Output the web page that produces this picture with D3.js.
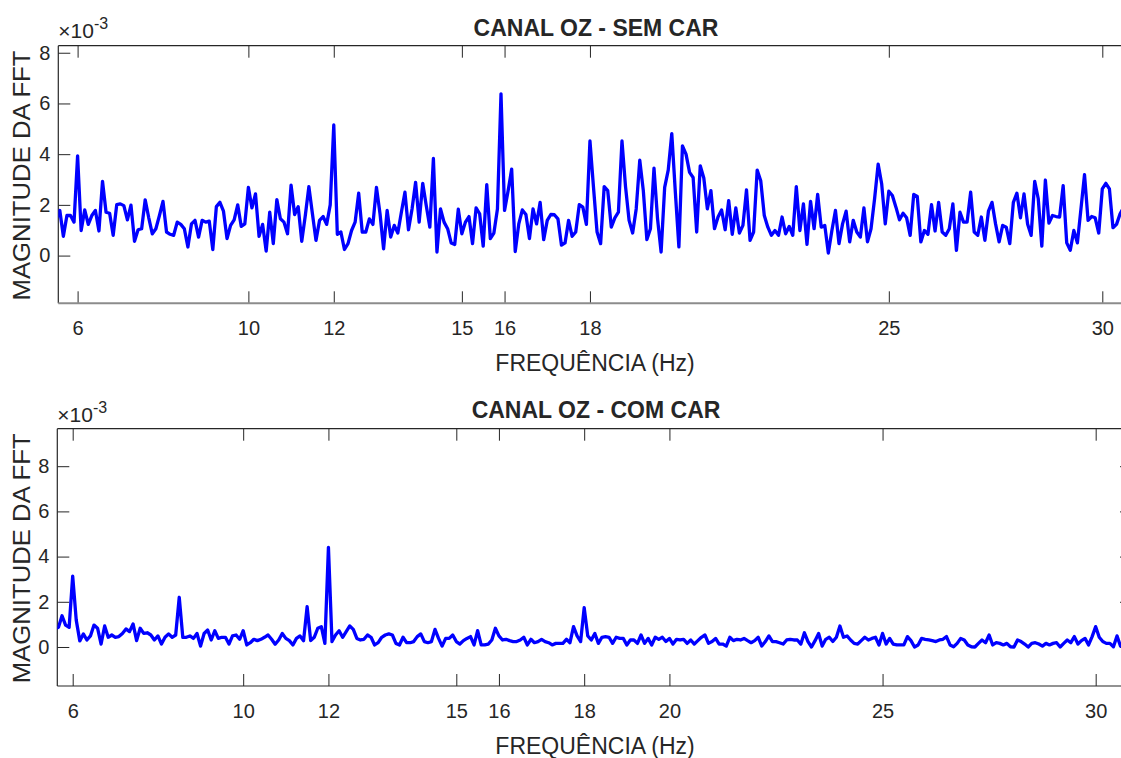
<!DOCTYPE html>
<html lang="en">
<head>
<meta charset="UTF-8">
<title>Canal OZ - FFT</title>
<script src="https://d3js.org/d3.v7.min.js"></script>
<style>
  body { margin: 0; background: #fff; }
  svg text { font-family: "Liberation Sans", Arial, Helvetica, sans-serif; fill: #262626; }
</style>
</head>
<body>
<svg id="fig" width="1121" height="758"></svg>
<script>
// FFT magnitude (units of 1e-3), one value every 1/12 Hz
const freqStep = 1 / 12;

const semCarStart = 5.5;
const semCar = [
  1.45, 1.78, 0.76, 1.58, 1.58, 1.32, 3.93, 0.99, 1.8, 1.23,
  1.58, 1.78, 0.97, 2.93, 1.71, 1.67, 0.8, 2.01, 2.04, 1.97,
  1.41, 1.99, 0.56, 1.02, 1.06, 2.2, 1.49, 0.86, 1.06, 1.58,
  2.14, 0.93, 0.84, 0.8, 1.32, 1.23, 1.06, 0.34, 1.25, 1.39,
  0.73, 1.39, 1.32, 1.36, 0.24, 1.93, 2.1, 1.75, 0.67, 1.19,
  1.41, 2.0, 1.15, 1.25, 2.69, 1.88, 2.43, 0.76, 1.23, 0.18,
  1.71, 0.47, 2.21, 1.45, 1.32, 0.86, 2.78, 1.62, 1.93, 0.56,
  1.58, 2.72, 1.65, 0.6, 1.39, 1.54, 1.23, 2.0, 5.15,
  0.84, 0.93, 0.24, 0.47, 0.99, 1.32, 2.46, 0.93, 0.93, 1.45,
  1.23, 2.69, 1.65, 0.27, 1.78, 0.73, 1.19, 0.89, 1.71, 2.5,
  1.02, 1.84, 2.89, 1.32, 2.85, 1.97, 1.12, 3.83, 0.14, 1.84,
  1.32, 1.06, 0.5, 0.44, 1.83, 0.86, 1.32, 1.54, 0.47, 1.88,
  1.65, 0.37, 2.8, 0.67, 0.89, 1.84, 6.38, 1.78, 2.56, 3.41,
  0.16, 1.25, 1.8, 1.62, 0.67, 1.84, 1.25, 2.1, 0.63, 1.39,
  1.62, 1.61, 1.45, 0.41, 0.5, 1.39, 0.76, 0.93, 2.01, 1.91,
  1.23, 4.52,
  2.69, 0.93, 0.47, 2.72, 2.56, 1.12, 1.49, 1.71, 4.52, 2.72,
  1.39, 0.89, 1.84, 3.76, 2.56, 0.63, 1.06, 3.45, 1.45, 0.14,
  2.69, 3.37, 4.81, 2.5, 0.34, 4.33, 4.0, 3.28, 3.08, 0.93,
  3.54, 3.06, 1.84, 2.56, 1.06, 1.52, 1.8, 1.02, 2.17, 0.84,
  1.88, 0.89, 1.19, 2.59, 0.6, 0.93, 3.37, 2.95, 1.58, 1.12,
  0.8, 0.99, 0.8, 1.52, 0.86, 1.15, 0.8, 2.72, 0.99, 2.04,
  0.44, 2.14, 1.06, 2.41, 1.12, 1.19, 0.1, 0.99, 1.78, 0.47,
  1.25, 1.75, 0.54, 1.39, 0.93, 0.73, 1.88, 0.54,
  1.06, 2.24, 3.61, 2.82, 1.25, 2.54, 2.37, 1.91, 1.41, 1.67,
  1.49, 0.8, 2.41, 2.33, 0.54, 0.99, 0.84, 2.01, 0.97, 2.1,
  0.93, 0.8, 1.06, 2.04, 0.21, 1.71, 1.32, 1.32, 2.5, 0.93,
  0.8, 1.52, 0.6, 1.75, 2.1, 1.25, 0.54, 1.19, 1.12, 0.47,
  2.1, 2.46, 1.49, 2.43, 1.25, 0.8, 2.93, 2.24, 0.37, 2.98,
  1.28, 1.58, 1.54, 1.52, 2.76, 0.5, 0.21, 0.99, 0.5, 1.84,
  3.19, 1.39, 1.54, 1.49, 0.89, 2.63, 2.85, 2.63, 1.1, 1.23,
  1.65, 1.9
];

const comCarStart = 5.5833;
const comCar = [
  0.8, 0.87, 1.38, 0.97, 0.87,
  3.14, 1.19, 0.27, 0.58, 0.31, 0.49, 0.97, 0.83, 0.13, 0.93,
  0.43, 0.53, 0.43, 0.46, 0.6, 0.8, 0.68, 1.02, 0.28, 0.83,
  0.6, 0.63, 0.53, 0.31, 0.49, 0.13, 0.43, 0.58, 0.43, 0.53,
  2.2, 0.43, 0.43, 0.49, 0.38, 0.6, 0.04, 0.6, 0.75, 0.31,
  0.72, 0.38, 0.43, 0.43, 0.13, 0.49, 0.53, 0.34, 0.72, 0.09,
  0.19, 0.34, 0.28, 0.34, 0.43, 0.53, 0.34, 0.12, 0.31, 0.6,
  0.38, 0.28, 0.09, 0.38, 0.49, 0.28, 1.78, 0.28, 0.43, 0.83,
  0.9, 0.16, 4.41,
  0.24, 0.53, 0.72, 0.43, 0.68, 0.93, 0.78, 0.38, 0.31, 0.34,
  0.53, 0.43, 0.09, 0.19, 0.43, 0.53, 0.58, 0.53, 0.16, 0.09,
  0.43, 0.19, 0.19, 0.24, 0.46, 0.58, 0.24, 0.19, 0.24, 0.78,
  0.38, 0.04, 0.38, 0.38, 0.53, 0.24, 0.13, 0.28, 0.38, 0.46,
  0.09, 0.72, 0.09, 0.09, 0.13, 0.31, 0.83, 0.49, 0.31, 0.34,
  0.28, 0.24, 0.24, 0.31, 0.43, 0.09, 0.34, 0.19, 0.24, 0.34,
  0.24, 0.19, 0.09, 0.16, 0.16, 0.16, 0.34, 0.19, 0.9, 0.49,
  0.24, 1.74,
  0.49, 0.31, 0.6, 0.16,
  0.43, 0.46, 0.43, 0.16, 0.43, 0.38, 0.38, 0.09, 0.31, 0.31,
  0.16, 0.53, 0.16, 0.38, 0.09, 0.43, 0.34, 0.43, 0.24, 0.38,
  0.13, 0.34, 0.31, 0.34, 0.16, 0.31, 0.13, 0.28, 0.43, 0.53,
  0.16, 0.24, 0.38, 0.13, 0.13, 0.04, 0.43, 0.28, 0.34, 0.31,
  0.38, 0.28, 0.19, 0.28, 0.43, 0.04, 0.24, 0.49, 0.24, 0.24,
  0.19, 0.13, 0.31, 0.34, 0.31, 0.31, 0.13, 0.63, 0.24, 0.0,
  0.28, 0.6, 0.04, 0.34, 0.43, 0.24, 0.43, 0.93, 0.43, 0.49,
  0.31, 0.16, 0.13, 0.28, 0.43, 0.31,
  0.38, 0.43, 0.09, 0.6, 0.13, 0.38, 0.13, 0.09, 0.09, 0.09,
  0.46, 0.28, 0.0, 0.09, 0.38, 0.34, 0.31, 0.28, 0.24, 0.31,
  0.34, 0.46, 0.09, 0.01, 0.16, 0.38, 0.31, 0.09, 0.01, 0.0,
  0.16, 0.31, 0.19, 0.53, 0.09, 0.19, 0.16, 0.09, 0.16, 0.01,
  0.0, 0.31, 0.24, 0.13, 0.0, 0.16, 0.19, 0.13, 0.04, 0.16,
  0.09, 0.16, 0.19, 0.0, 0.16, 0.31, 0.19, 0.46, 0.13, 0.28,
  0.38, 0.09, 0.46, 0.9, 0.43, 0.24, 0.16, 0.16, 0.01, 0.49,
  0.04, 0.1
];

const xTicksSem = [6, 10, 12, 15, 16, 18, 25, 30];
const xTicksCom = [6, 10, 12, 15, 16, 18, 20, 25, 30];
const yTicks = [0, 2, 4, 6, 8];

const svg = d3.select('#fig');

function panel(cfg) {
  const x = d3.scaleLinear().domain(cfg.xDomain).range([cfg.left, cfg.right]);
  const y = d3.scaleLinear().domain(cfg.yDomain).range([cfg.bottom, cfg.top]);
  const g = svg.append('g');

  g.append('clipPath').attr('id', cfg.id)
    .append('rect')
    .attr('x', cfg.left).attr('y', cfg.top)
    .attr('width', cfg.right - cfg.left).attr('height', cfg.bottom - cfg.top);

  // ticks point inwards, MATLAB style
  const styleAxis = sel => {
    sel.select('.domain').remove();
    sel.selectAll('line').attr('stroke', '#262626');
    sel.selectAll('text').attr('font-size', '20px').attr('fill', '#262626')
      .attr('font-family', '"Liberation Sans", Arial, sans-serif');
  };
  g.append('g').attr('transform', `translate(0,${cfg.bottom})`)
    .call(d3.axisBottom(x).tickValues(cfg.xTicks).tickSize(-12).tickPadding(18).tickFormat(d3.format('d')))
    .call(styleAxis);
  g.append('g').attr('transform', `translate(0,${cfg.top})`)
    .call(d3.axisTop(x).tickValues(cfg.xTicks).tickSize(-12).tickFormat(''))
    .call(styleAxis);
  g.append('g').attr('transform', `translate(${cfg.left},0)`)
    .call(d3.axisLeft(y).tickValues(yTicks).tickSize(-12).tickPadding(8).tickFormat(d3.format('d')))
    .call(styleAxis);
  g.append('g').attr('transform', `translate(${cfg.right},0)`)
    .call(d3.axisRight(y).tickValues(yTicks).tickSize(-12).tickFormat(''))
    .call(styleAxis);

  // box
  g.append('line').attr('x1', cfg.left).attr('x2', cfg.right).attr('y1', cfg.top).attr('y2', cfg.top)
    .attr('stroke', '#262626').attr('stroke-width', 1.2);
  g.append('line').attr('x1', cfg.left).attr('x2', cfg.left).attr('y1', cfg.top).attr('y2', cfg.bottom)
    .attr('stroke', '#262626').attr('stroke-width', 1.2);
  g.append('line').attr('x1', cfg.left).attr('x2', cfg.right).attr('y1', cfg.bottom).attr('y2', cfg.bottom)
    .attr('stroke', cfg.bottomColor).attr('stroke-width', cfg.bottomWidth);

  // data line
  const line = d3.line()
    .x((d, i) => x(cfg.start + i * freqStep))
    .y(d => y(d));
  g.append('path')
    .datum(cfg.values)
    .attr('clip-path', `url(#${cfg.id})`)
    .attr('fill', 'none')
    .attr('stroke', '#0000ff')
    .attr('stroke-width', 3.3)
    .attr('stroke-linejoin', 'round')
    .attr('d', line);

  // title and labels
  g.append('text')
    .attr('x', 596).attr('y', cfg.titleY)
    .attr('text-anchor', 'middle')
    .attr('font-size', '23px').attr('font-weight', 'bold')
    .attr('fill', '#000')
    .text(cfg.title);
  g.append('text')
    .attr('x', 595).attr('y', cfg.xlabelY)
    .attr('text-anchor', 'middle')
    .attr('font-size', '23px')
    .text('FREQUÊNCIA (Hz)');
  g.append('text')
    .attr('transform', `translate(29.5,${(cfg.top + cfg.bottom) / 2 + 1}) rotate(-90)`)
    .attr('text-anchor', 'middle')
    .attr('font-size', '23px')
    .attr('textLength', 250).attr('lengthAdjust', 'spacingAndGlyphs')
    .text('MAGNITUDE DA FFT');

  // exponent label
  const ex = g.append('text').attr('x', cfg.left).attr('y', cfg.top - cfg.expGap).attr('font-size', '21px');
  ex.append('tspan').text('\u00d710');
  ex.append('tspan').attr('dy', -9).attr('font-size', '16px').text('-3');
}

panel({
  id: 'clipSem', left: 58.3, right: 1140, top: 45.7, bottom: 303.3,
  xDomain: [5.548, 30.883], yDomain: [-1.882, 8.278],
  xTicks: xTicksSem, values: semCar, start: semCarStart,
  title: 'CANAL OZ - SEM CAR', titleY: 36, xlabelY: 371, expGap: 8,
  bottomColor: '#8c8c8c', bottomWidth: 2
});

panel({
  id: 'clipCom', left: 57.3, right: 1132, top: 428.7, bottom: 686,
  xDomain: [5.639, 30.852], yDomain: [-1.726, 9.659],
  xTicks: xTicksCom, values: comCar, start: comCarStart,
  title: 'CANAL OZ - COM CAR', titleY: 418, xlabelY: 754, expGap: 7,
  bottomColor: '#262626', bottomWidth: 1.2
});
</script>
</body>
</html>
